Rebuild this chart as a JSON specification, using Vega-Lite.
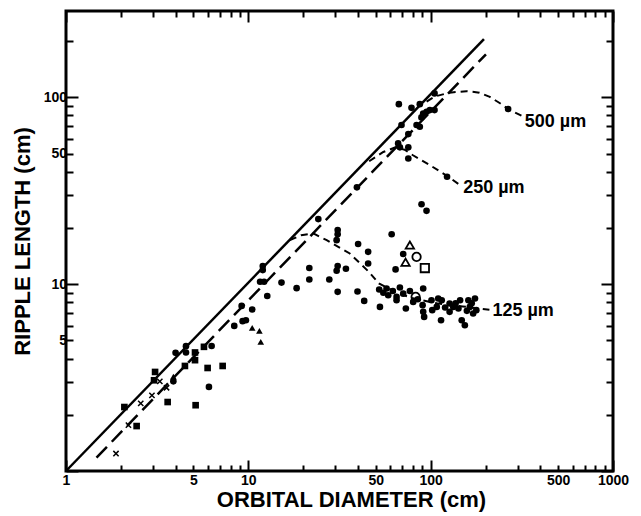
{
  "$schema": "https://vega.github.io/schema/vega-lite/v6.json",
  "width": 547,
  "height": 460,
  "autosize": {"type": "none"},
  "padding": {"left": 66, "top": 11, "right": 28, "bottom": 45},
  "background": "white",
  "config": {
    "view": {"stroke": "black", "strokeWidth": 3},
    "axis": {
      "domain": false,
      "grid": false,
      "tickColor": "black",
      "tickWidth": 2,
      "labelFont": "Liberation Sans",
      "labelFontWeight": "bold",
      "labelFontSize": 14,
      "labelColor": "black",
      "labelOverlap": false,
      "labelFlush": false,
      "labelBound": false,
      "titleFont": "Liberation Sans",
      "titleFontWeight": "bold",
      "titleFontSize": 22,
      "titleColor": "black",
      "format": "d"
    }
  },
  "datasets": {
    "guides": [
      {"d": 1, "L": 1, "curve": "solid"},
      {"d": 196, "L": 205, "curve": "solid"},
      {"d": 1.47, "L": 1.18, "curve": "dashed"},
      {"d": 201, "L": 170, "curve": "dashed"}
    ],
    "grain": [
      {"d": 95, "L": 95, "curve": "500"},
      {"d": 105, "L": 101, "curve": "500"},
      {"d": 127, "L": 106, "curve": "500"},
      {"d": 157, "L": 108, "curve": "500"},
      {"d": 185, "L": 106, "curve": "500"},
      {"d": 211, "L": 100.7, "curve": "500"},
      {"d": 240, "L": 93, "curve": "500"},
      {"d": 266, "L": 86.6, "curve": "500"},
      {"d": 321, "L": 79, "curve": "500"},
      {"d": 46, "L": 45.5, "curve": "250"},
      {"d": 55, "L": 51, "curve": "250"},
      {"d": 64, "L": 54, "curve": "250"},
      {"d": 72, "L": 52.5, "curve": "250"},
      {"d": 80, "L": 49, "curve": "250"},
      {"d": 99, "L": 43.4, "curve": "250"},
      {"d": 125, "L": 37.6, "curve": "250"},
      {"d": 145, "L": 33.9, "curve": "250"},
      {"d": 16.9, "L": 17.2, "curve": "125"},
      {"d": 19.5, "L": 18.3, "curve": "125"},
      {"d": 22.7, "L": 18.7, "curve": "125"},
      {"d": 26.9, "L": 17.2, "curve": "125"},
      {"d": 36, "L": 14.6, "curve": "125"},
      {"d": 46, "L": 11.6, "curve": "125"},
      {"d": 52, "L": 10.1, "curve": "125"},
      {"d": 65, "L": 9.0, "curve": "125"},
      {"d": 80, "L": 8.4, "curve": "125"},
      {"d": 108, "L": 7.9, "curve": "125"},
      {"d": 150, "L": 7.6, "curve": "125"},
      {"d": 210, "L": 7.3, "curve": "125"}
    ],
    "labels": [
      {"d": 328, "L": 74, "label": "500 µm"},
      {"d": 150.7, "L": 32.6, "label": "250 µm"},
      {"d": 218, "L": 7.2, "label": "125 µm"}
    ],
    "obs": [
      {"d": 9.19, "L": 7.65, "sym": "dot"},
      {"d": 10.5, "L": 7.32, "sym": "dot"},
      {"d": 8.37, "L": 5.98, "sym": "dot"},
      {"d": 9.3, "L": 6.34, "sym": "dot"},
      {"d": 9.7, "L": 6.41, "sym": "dot"},
      {"d": 3.99, "L": 4.29, "sym": "dot"},
      {"d": 4.55, "L": 4.66, "sym": "dot"},
      {"d": 4.55, "L": 4.31, "sym": "dot"},
      {"d": 6.29, "L": 4.67, "sym": "dot"},
      {"d": 6.08, "L": 2.82, "sym": "dot"},
      {"d": 3.88, "L": 3.02, "sym": "dot"},
      {"d": 24.2, "L": 22.3, "sym": "dot"},
      {"d": 30.9, "L": 19.5, "sym": "dot"},
      {"d": 30.9, "L": 18.5, "sym": "dot"},
      {"d": 30.5, "L": 17.2, "sym": "dot"},
      {"d": 12, "L": 12.5, "sym": "dot"},
      {"d": 12, "L": 11.9, "sym": "dot"},
      {"d": 11.6, "L": 10.3, "sym": "dot"},
      {"d": 12.2, "L": 10.3, "sym": "dot"},
      {"d": 12.7, "L": 8.65, "sym": "dot"},
      {"d": 15.2, "L": 10.2, "sym": "dot"},
      {"d": 18.4, "L": 9.52, "sym": "dot"},
      {"d": 21.6, "L": 12.2, "sym": "dot"},
      {"d": 21.6, "L": 10.6, "sym": "dot"},
      {"d": 27.8, "L": 10.6, "sym": "dot"},
      {"d": 30.9, "L": 12.5, "sym": "dot"},
      {"d": 30.5, "L": 11.8, "sym": "dot"},
      {"d": 34.3, "L": 12.1, "sym": "dot"},
      {"d": 30.9, "L": 9.1, "sym": "dot"},
      {"d": 40, "L": 16.4, "sym": "dot"},
      {"d": 45.4, "L": 14.9, "sym": "dot"},
      {"d": 45.4, "L": 12.9, "sym": "dot"},
      {"d": 39.7, "L": 9.14, "sym": "dot"},
      {"d": 43.2, "L": 8.14, "sym": "dot"},
      {"d": 52.7, "L": 7.56, "sym": "dot"},
      {"d": 61.1, "L": 18.5, "sym": "dot"},
      {"d": 64.2, "L": 12, "sym": "dot"},
      {"d": 70.7, "L": 14.5, "sym": "dot"},
      {"d": 89.1, "L": 26.8, "sym": "dot"},
      {"d": 94.9, "L": 24.7, "sym": "dot"},
      {"d": 39.4, "L": 33, "sym": "dot"},
      {"d": 52.2, "L": 9.37, "sym": "dot"},
      {"d": 57.3, "L": 9.48, "sym": "dot"},
      {"d": 58.5, "L": 8.73, "sym": "dot"},
      {"d": 65, "L": 8.55, "sym": "dot"},
      {"d": 67.8, "L": 9.6, "sym": "dot"},
      {"d": 65, "L": 8.2, "sym": "dot"},
      {"d": 70.7, "L": 8.9, "sym": "dot"},
      {"d": 76.9, "L": 9.2, "sym": "dot"},
      {"d": 80.2, "L": 8.04, "sym": "dot"},
      {"d": 73.1, "L": 7.41, "sym": "dot"},
      {"d": 91, "L": 9.48, "sym": "dot"},
      {"d": 90.3, "L": 7.72, "sym": "dot"},
      {"d": 91, "L": 7.11, "sym": "dot"},
      {"d": 92.1, "L": 6.68, "sym": "dot"},
      {"d": 101, "L": 8.2, "sym": "dot"},
      {"d": 110, "L": 8.38, "sym": "dot"},
      {"d": 115, "L": 8.2, "sym": "dot"},
      {"d": 108, "L": 7.56, "sym": "dot"},
      {"d": 114, "L": 6.41, "sym": "dot"},
      {"d": 127, "L": 7.88, "sym": "dot"},
      {"d": 127, "L": 7.11, "sym": "dot"},
      {"d": 142, "L": 7.41, "sym": "dot"},
      {"d": 145, "L": 8.2, "sym": "dot"},
      {"d": 148, "L": 6.41, "sym": "dot"},
      {"d": 154, "L": 6.03, "sym": "dot"},
      {"d": 161, "L": 8.2, "sym": "dot"},
      {"d": 164, "L": 7.56, "sym": "dot"},
      {"d": 175, "L": 8.38, "sym": "dot"},
      {"d": 171, "L": 6.97, "sym": "dot"},
      {"d": 178, "L": 7.26, "sym": "dot"},
      {"d": 133, "L": 7.56, "sym": "dot"},
      {"d": 102, "L": 7.26, "sym": "dot"},
      {"d": 55, "L": 9.0, "sym": "dot"},
      {"d": 62, "L": 9.2, "sym": "dot"},
      {"d": 85, "L": 8.3, "sym": "dot"},
      {"d": 120, "L": 7.5, "sym": "dot"},
      {"d": 137, "L": 7.9, "sym": "dot"},
      {"d": 158, "L": 7.2, "sym": "dot"},
      {"d": 168, "L": 7.9, "sym": "dot"},
      {"d": 105, "L": 105, "sym": "dot"},
      {"d": 66.9, "L": 92, "sym": "dot"},
      {"d": 78.5, "L": 87.9, "sym": "dot"},
      {"d": 87.2, "L": 92, "sym": "dot"},
      {"d": 91, "L": 82, "sym": "dot"},
      {"d": 95, "L": 83.7, "sym": "dot"},
      {"d": 99, "L": 85.5, "sym": "dot"},
      {"d": 105, "L": 85.5, "sym": "dot"},
      {"d": 89, "L": 78.1, "sym": "dot"},
      {"d": 83.7, "L": 71.1, "sym": "dot"},
      {"d": 87.2, "L": 69.6, "sym": "dot"},
      {"d": 69.2, "L": 71.1, "sym": "dot"},
      {"d": 75.4, "L": 63.6, "sym": "dot"},
      {"d": 66.3, "L": 56.7, "sym": "dot"},
      {"d": 67.8, "L": 54, "sym": "dot"},
      {"d": 75.4, "L": 54, "sym": "dot"},
      {"d": 75.4, "L": 47.1, "sym": "dot"},
      {"d": 123, "L": 37.6, "sym": "dot"},
      {"d": 266, "L": 86.6, "sym": "dot"},
      {"d": 3.08, "L": 3.39, "sym": "square"},
      {"d": 3.04, "L": 3.06, "sym": "square"},
      {"d": 2.09, "L": 2.2, "sym": "square"},
      {"d": 2.44, "L": 1.74, "sym": "square"},
      {"d": 3.61, "L": 2.34, "sym": "square"},
      {"d": 4.49, "L": 3.65, "sym": "square"},
      {"d": 5.1, "L": 4.31, "sym": "square"},
      {"d": 5.1, "L": 3.92, "sym": "square"},
      {"d": 5.71, "L": 4.62, "sym": "square"},
      {"d": 5.98, "L": 3.56, "sym": "square"},
      {"d": 7.23, "L": 3.65, "sym": "square"},
      {"d": 5.14, "L": 2.25, "sym": "square"},
      {"d": 10.5, "L": 5.83, "sym": "tri"},
      {"d": 11.5, "L": 5.62, "sym": "tri"},
      {"d": 11.7, "L": 4.91, "sym": "tri"},
      {"d": 3.88, "L": 3.2, "sym": "tri"},
      {"d": 1.88, "L": 1.24, "sym": "x"},
      {"d": 2.2, "L": 1.76, "sym": "x"},
      {"d": 2.57, "L": 2.3, "sym": "x"},
      {"d": 2.96, "L": 2.54, "sym": "x"},
      {"d": 3.27, "L": 3.02, "sym": "x"},
      {"d": 3.56, "L": 2.79, "sym": "x"},
      {"d": 76.9, "L": 16.2, "sym": "otri"},
      {"d": 72.8, "L": 13.1, "sym": "otri"},
      {"d": 83.7, "L": 14.0, "sym": "ocirc"},
      {"d": 82.7, "L": 8.55, "sym": "ocirc"},
      {"d": 92.9, "L": 12.2, "sym": "osq"}
    ]
  },
  "resolve": {"axis": {"x": "independent", "y": "independent"}},
  "layer": [
    {
      "data": {"name": "guides"},
      "transform": [{"filter": "datum.curve === 'solid'"}],
      "mark": {"type": "line", "color": "black", "strokeWidth": 2.5},
      "encoding": {
        "x": {
          "field": "d", "type": "quantitative",
          "scale": {"type": "log", "domain": [1, 1000], "nice": false},
          "axis": {
            "orient": "bottom",
            "values": [2, 3, 4, 5, 6, 7, 8, 9, 20, 30, 40, 50, 60, 70, 80, 90, 200, 300, 400, 500, 600, 700, 800, 900],
            "tickSize": -6,
            "labelPadding": 8,
            "labelExpr": "indexof([5, 50, 500], datum.value) >= 0 ? datum.label : ''",
            "title": "ORBITAL DIAMETER (cm)",
            "titleX": 285,
            "titlePadding": 2
          }
        },
        "y": {
          "field": "L", "type": "quantitative",
          "scale": {"type": "log", "domain": [1, 290], "nice": false},
          "axis": {
            "orient": "left",
            "values": [2, 3, 4, 5, 6, 7, 8, 9, 20, 30, 40, 50, 60, 70, 80, 90, 200],
            "tickSize": -7,
            "labelPadding": 6.5,
            "labelExpr": "indexof([5, 50], datum.value) >= 0 ? datum.label : ''",
            "title": "RIPPLE LENGTH (cm)",
            "titlePadding": 16
          }
        }
      }
    },
    {
      "data": {"name": "guides"},
      "transform": [{"filter": "datum.curve === 'dashed'"}],
      "mark": {"type": "line", "color": "black", "strokeWidth": 2.5, "strokeDash": [15, 7]},
      "encoding": {
        "x": {
          "field": "d", "type": "quantitative",
          "scale": {"type": "log", "domain": [1, 1000], "nice": false},
          "axis": {
            "orient": "bottom",
            "values": [1, 10, 100, 1000],
            "tickSize": -11,
            "labelPadding": 13,
            "title": null
          }
        },
        "y": {
          "field": "L", "type": "quantitative",
          "scale": {"type": "log", "domain": [1, 290], "nice": false},
          "axis": {
            "orient": "left",
            "values": [1, 10, 100],
            "tickSize": -12,
            "labelPadding": 11.5,
            "labelExpr": "datum.value >= 10 ? datum.label : ''",
            "title": null
          }
        }
      }
    },
    {
      "data": {"name": "grain"},
      "mark": {"type": "line", "color": "black", "strokeWidth": 2, "strokeDash": [7, 5]},
      "encoding": {
        "x": {
          "field": "d", "type": "quantitative",
          "scale": {"type": "log", "domain": [1, 1000], "nice": false},
          "axis": {
            "orient": "top",
            "values": [2, 3, 4, 5, 6, 7, 8, 9, 20, 30, 40, 50, 60, 70, 80, 90, 200, 300, 400, 500, 600, 700, 800, 900],
            "tickSize": -6,
            "labels": false,
            "title": null
          }
        },
        "y": {
          "field": "L", "type": "quantitative",
          "scale": {"type": "log", "domain": [1, 290], "nice": false},
          "axis": {
            "orient": "right",
            "values": [2, 3, 4, 5, 6, 7, 8, 9, 20, 30, 40, 50, 60, 70, 80, 90, 200],
            "tickSize": -7,
            "labels": false,
            "title": null
          }
        },
        "detail": {"field": "curve", "type": "nominal"}
      }
    },
    {
      "data": {"name": "obs"},
      "transform": [{"filter": "indexof(['dot', 'square', 'tri'], datum.sym) >= 0"}],
      "mark": {"type": "point", "filled": true, "color": "black", "opacity": 1, "size": 44},
      "encoding": {
        "x": {
          "field": "d", "type": "quantitative",
          "scale": {"type": "log", "domain": [1, 1000], "nice": false},
          "axis": {
            "orient": "top",
            "values": [1, 10, 100, 1000],
            "tickSize": -11,
            "labels": false,
            "title": null
          }
        },
        "y": {
          "field": "L", "type": "quantitative",
          "scale": {"type": "log", "domain": [1, 290], "nice": false},
          "axis": {
            "orient": "right",
            "values": [1, 10, 100],
            "tickSize": -12,
            "labels": false,
            "title": null
          }
        },
        "shape": {
          "field": "sym", "type": "nominal",
          "scale": {
            "domain": ["dot", "square", "tri", "otri", "ocirc", "osq"],
            "range": ["circle", "square", "triangle-up", "triangle-up", "circle", "square"]
          },
          "legend": null
        }
      }
    },
    {
      "data": {"name": "obs"},
      "transform": [{"filter": "indexof(['otri', 'ocirc', 'osq'], datum.sym) >= 0"}],
      "mark": {"type": "point", "filled": false, "color": "black", "opacity": 1, "strokeWidth": 1.8, "size": 70},
      "encoding": {
        "x": {"field": "d", "type": "quantitative", "scale": {"type": "log", "domain": [1, 1000], "nice": false}, "axis": null},
        "y": {"field": "L", "type": "quantitative", "scale": {"type": "log", "domain": [1, 290], "nice": false}, "axis": null},
        "shape": {
          "field": "sym", "type": "nominal",
          "scale": {
            "domain": ["dot", "square", "tri", "otri", "ocirc", "osq"],
            "range": ["circle", "square", "triangle-up", "triangle-up", "circle", "square"]
          },
          "legend": null
        }
      }
    },
    {
      "data": {"name": "obs"},
      "transform": [{"filter": "datum.sym === 'x'"}],
      "mark": {"type": "point", "shape": "M-1,-1L1,1M-1,1L1,-1", "filled": false, "color": "black", "opacity": 1, "strokeWidth": 1.5, "size": 28},
      "encoding": {
        "x": {"field": "d", "type": "quantitative", "scale": {"type": "log", "domain": [1, 1000], "nice": false}, "axis": null},
        "y": {"field": "L", "type": "quantitative", "scale": {"type": "log", "domain": [1, 290], "nice": false}, "axis": null}
      }
    },
    {
      "data": {"name": "labels"},
      "mark": {"type": "text", "align": "left", "baseline": "middle", "font": "Liberation Sans", "fontWeight": "bold", "fontSize": 18, "color": "black"},
      "encoding": {
        "x": {"field": "d", "type": "quantitative", "scale": {"type": "log", "domain": [1, 1000], "nice": false}, "axis": null},
        "y": {"field": "L", "type": "quantitative", "scale": {"type": "log", "domain": [1, 290], "nice": false}, "axis": null},
        "text": {"field": "label", "type": "nominal"}
      }
    }
  ]
}
